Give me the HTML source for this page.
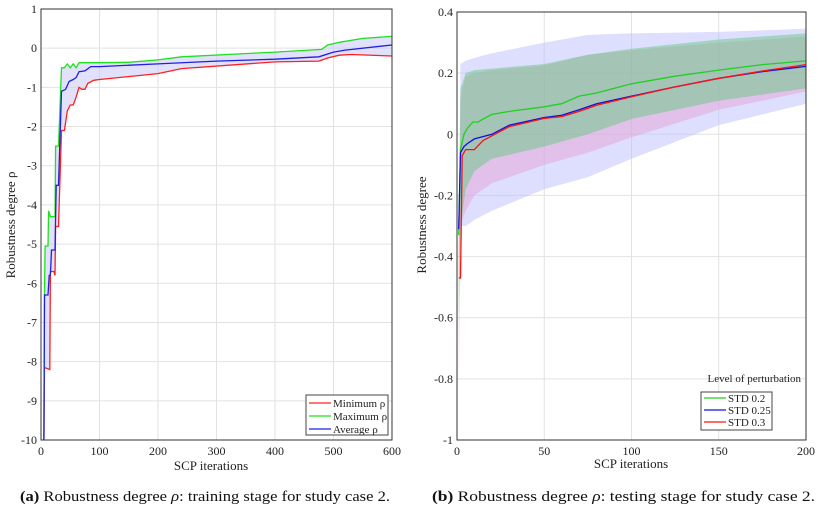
<!DOCTYPE html>
<html><head><meta charset="utf-8"><style>
body{margin:0;background:#fff;}
svg{display:block;font-family:"Liberation Serif",serif;}
</style></head><body>
<svg id="s" width="825" height="509"></svg>
<script>
// ---- Left chart data (training) ----
const minX=[5,6,15,16,22,24,25,30,35,40,45,50,55,60,65,70,75,80,90,100,200,240,400,475,490,510,530,600];
const minY=[-10,-8.15,-8.2,-5.7,-5.7,-5.8,-4.55,-4.55,-2.1,-2.1,-1.6,-1.45,-1.45,-1.25,-1.0,-1.05,-1.05,-0.9,-0.82,-0.8,-0.65,-0.52,-0.35,-0.33,-0.25,-0.18,-0.16,-0.2];
const maxX=[5,6,7,12,13,16,24,25,30,35,40,45,50,55,60,65,100,150,200,240,400,480,490,510,550,600];
const maxY=[-10,-6.3,-5.05,-5.05,-4.15,-4.3,-4.3,-2.5,-2.5,-0.5,-0.5,-0.4,-0.5,-0.4,-0.5,-0.37,-0.37,-0.36,-0.3,-0.22,-0.1,-0.03,0.08,0.15,0.25,0.3];
const avgX=[5,6,12,14,16,18,24,26,30,35,42,48,55,60,65,75,85,100,200,300,400,475,500,520,600];
const avgY=[-10,-6.3,-6.3,-5.8,-5.8,-5.15,-5.15,-3.5,-3.5,-1.1,-1.05,-0.85,-0.8,-0.75,-0.6,-0.58,-0.47,-0.47,-0.4,-0.33,-0.28,-0.22,-0.1,-0.05,0.08];
const lxTicks=[0,100,200,300,400,500,600];
const lyTicks=[1,0,-1,-2,-3,-4,-5,-6,-7,-8,-9,-10];
// ---- Right chart data (testing) ----
const gX=[1,2,4,6,9,12,15,20,30,50,60,70,80,90,100,125,150,175,200];
const gY=[-0.33,-0.05,0.0,0.02,0.04,0.04,0.05,0.065,0.075,0.09,0.1,0.125,0.135,0.15,0.165,0.19,0.21,0.228,0.24];
const bX=[1,2,4,6,10,20,30,50,60,70,80,100,125,150,175,200];
const bY=[-0.31,-0.06,-0.04,-0.03,-0.015,0.0,0.03,0.055,0.062,0.08,0.1,0.125,0.155,0.183,0.205,0.222];
const rX=[1,2,3,5,10,15,20,30,50,60,70,80,100,125,150,175,200];
const rY=[-0.47,-0.47,-0.07,-0.05,-0.05,-0.02,-0.005,0.025,0.052,0.058,0.075,0.095,0.123,0.155,0.183,0.207,0.228];
const bandX=[1,2,5,10,20,50,75,100,150,200];
const bBandHi=[-0.3,0.23,0.24,0.25,0.265,0.3,0.325,0.33,0.335,0.345];
const bBandLo=[-0.3,-0.3,-0.3,-0.28,-0.25,-0.18,-0.14,-0.08,0.03,0.1];
const rBandHi=[-0.45,0.12,0.19,0.2,0.21,0.225,0.26,0.275,0.3,0.32];
const rBandLo=[-0.85,-0.3,-0.25,-0.2,-0.16,-0.1,-0.06,-0.01,0.08,0.14];
const gBandHi=[-0.3,0.15,0.2,0.21,0.215,0.23,0.26,0.28,0.31,0.33];
const gBandLo=[-0.6,-0.3,-0.18,-0.12,-0.08,-0.04,0.0,0.05,0.11,0.15];
const rxTicks=[0,50,100,150,200];
const ryTicks=[0.4,0.2,0,-0.2,-0.4,-0.6,-0.8,-1];

const NS='http://www.w3.org/2000/svg', S=document.getElementById('s');
function mk(t,a,p,txt){const e=document.createElementNS(NS,t);for(const k in a)e.setAttribute(k,a[k]);if(txt!==undefined)e.textContent=txt;(p||S).appendChild(e);return e;}
function lin(d0,d1,r0,r1){return v=>r0+(v-d0)/(d1-d0)*(r1-r0);}

function axes(g,X,Y,x0,x1,y0,y1,xt,yt,fmt){
  for(const t of xt){mk('line',{x1:X(t),x2:X(t),y1:y0,y2:y1,stroke:'#e2e2e2','stroke-width':1},g);}
  for(const t of yt){mk('line',{x1:x0,x2:x1,y1:Y(t),y2:Y(t),stroke:'#e2e2e2','stroke-width':1},g);}
}
function frame(g,X,Y,x0,x1,y0,y1,xt,yt,fmt){
  mk('rect',{x:x0,y:y0,width:x1-x0,height:y1-y0,fill:'none',stroke:'#333','stroke-width':1},g);
  for(const t of xt){const tx=mk('text',{x:X(t),y:y1+15,'font-size':12,'text-anchor':'middle',fill:'#222'},g,String(t));}
  for(const t of yt){const tx=mk('text',{x:x0-4,y:Y(t)+4,'font-size':12,'text-anchor':'end',fill:'#222'},g,fmt(t));}
}
function pathStr(xs,ys,X,Y){return xs.map((x,i)=>(i?'L':'M')+X(x).toFixed(1)+','+Y(ys[i]).toFixed(1)).join('');}
function band(g,xs,hi,lo,X,Y,fill,name){
  let d=pathStr(xs,hi,X,Y);for(let i=xs.length-1;i>=0;i--)d+='L'+X(xs[i]).toFixed(1)+','+Y(lo[i]).toFixed(1);
  const p=mk('path',{d:d+'Z',fill:fill,stroke:'none'},g);
}
function line(g,xs,ys,X,Y,c,name){const p=mk('path',{d:pathStr(xs,ys,X,Y),fill:'none',stroke:c,'stroke-width':1.3},g);}

// Left chart
const L=mk('g',{});
const lx0=41,lx1=392,ly0=9,ly1=440;
const LX=lin(0,600,lx0,lx1),LY=lin(1,-10,ly0,ly1);
axes(L,LX,LY,lx0,lx1,ly0,ly1,lxTicks,lyTicks);
{let d=pathStr(maxX,maxY,LX,LY);for(let i=minX.length-1;i>=0;i--)d+='L'+LX(minX[i]).toFixed(1)+','+LY(minY[i]).toFixed(1);
 const p=mk('path',{d:d+'Z',fill:'rgba(200,200,250,0.55)'},L);}
line(L,minX,minY,LX,LY,'#ff2020','minimum-line');
line(L,maxX,maxY,LX,LY,'#20e020','maximum-line');
line(L,avgX,avgY,LX,LY,'#2020e0','average-line');
frame(L,LX,LY,lx0,lx1,ly0,ly1,lxTicks,lyTicks,t=>String(t));
mk('text',{x:211,y:470,'font-size':13,'text-anchor':'middle',fill:'#222',},L,'SCP iterations');
mk('text',{transform:'translate(15,225) rotate(-90)','font-size':13,'text-anchor':'middle',fill:'#222',},L,'Robustness degree ρ');
const lg=mk('g',{},L);
mk('rect',{x:306,y:395,width:82,height:40,fill:'#fff',stroke:'#444'},lg);
[['Minimum ρ','#ff2020'],['Maximum ρ','#20e020'],['Average ρ','#2020e0']].forEach((e,i)=>{
 const y=403+i*13;mk('line',{x1:309,x2:331,y1:y,y2:y,stroke:e[1],'stroke-width':1.3},lg);
 mk('text',{x:333,y:y+4,'font-size':11,fill:'#222',},lg,e[0]);});

// Right chart
const R=mk('g',{});
const rx0=457,rx1=806,ry0=12,ry1=440;
const RX=lin(0,200,rx0,rx1),RY=lin(0.4,-1,ry0,ry1);
axes(R,RX,RY,rx0,rx1,ry0,ry1,rxTicks,ryTicks);
band(R,bandX,bBandHi,bBandLo,RX,RY,'rgba(190,190,255,0.5)','std025-band');
band(R,bandX,rBandHi,rBandLo,RX,RY,'rgba(230,150,200,0.4)','std03-band');
band(R,bandX,gBandHi,gBandLo,RX,RY,'rgba(90,200,120,0.45)','std02-band');
line(R,gX,gY,RX,RY,'#20d020','std02-line');
line(R,bX,bY,RX,RY,'#1010e0','std025-line');
line(R,rX,rY,RX,RY,'#ff1010','std03-line');
frame(R,RX,RY,rx0,rx1,ry0,ry1,rxTicks,ryTicks,t=>String(Math.round(t*10)/10));
mk('text',{x:631,y:468,'font-size':13,'text-anchor':'middle',fill:'#222',},R,'SCP iterations');
mk('text',{transform:'translate(426,225) rotate(-90)','font-size':13,'text-anchor':'middle',fill:'#222',},R,'Robustness degree');
const rg=mk('g',{},R);
mk('text',{x:801,y:382,'font-size':11,'text-anchor':'end',fill:'#222',},rg,'Level of perturbation');
mk('rect',{x:701,y:392,width:71,height:38,fill:'#fff',stroke:'#444'},rg);
[['STD 0.2','#20d020'],['STD 0.25','#1010e0'],['STD 0.3','#ff1010']].forEach((e,i)=>{
 const y=398+i*12;mk('line',{x1:704,x2:726,y1:y,y2:y,stroke:e[1],'stroke-width':1.3},rg);
 mk('text',{x:728,y:y+4,'font-size':11,fill:'#222',},rg,e[0]);});

// Captions
mk('text',{x:20,y:501,'font-size':15,fill:'#111',textLength:370,lengthAdjust:'spacingAndGlyphs',},S).innerHTML='<tspan font-weight="bold">(a)</tspan> Robustness degree <tspan font-style="italic">ρ</tspan>: training stage for study case 2.';
mk('text',{x:432,y:501,'font-size':15,fill:'#111',textLength:383,lengthAdjust:'spacingAndGlyphs',},S).innerHTML='<tspan font-weight="bold">(b)</tspan> Robustness degree <tspan font-style="italic">ρ</tspan>: testing stage for study case 2.';
</script>
</body></html>
